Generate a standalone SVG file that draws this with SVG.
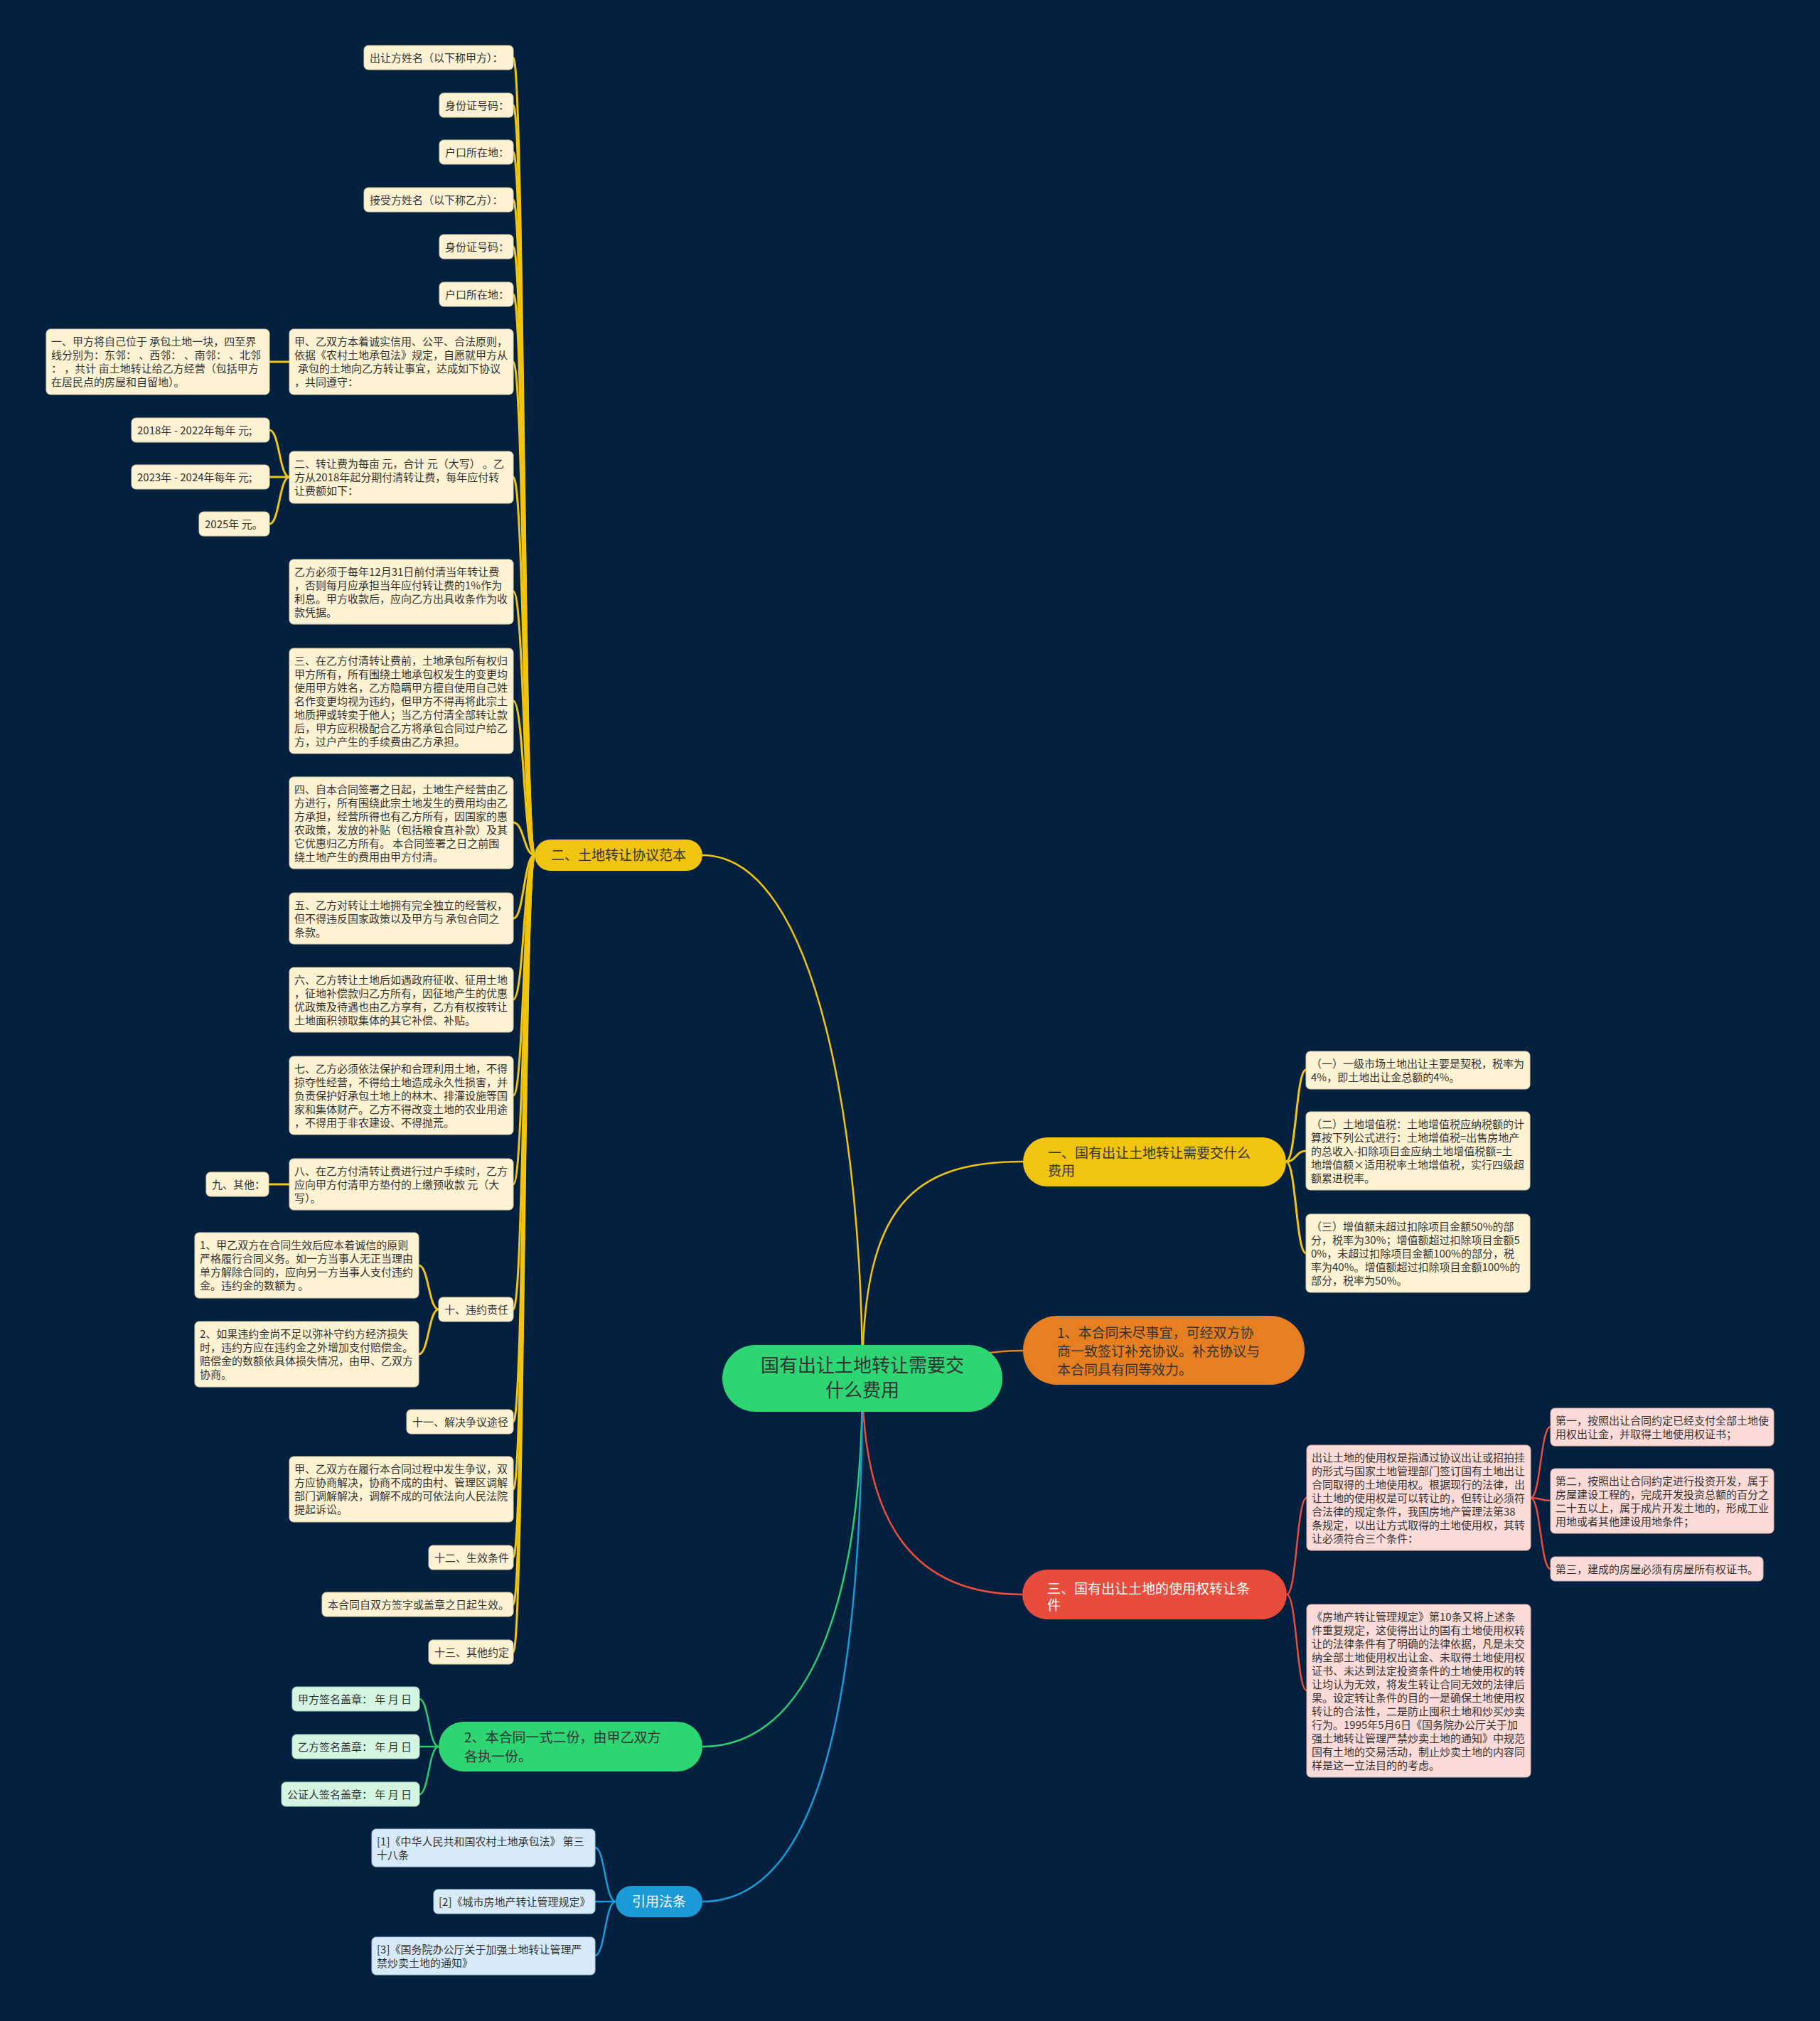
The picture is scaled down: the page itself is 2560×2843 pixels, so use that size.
<svg xmlns="http://www.w3.org/2000/svg" width="2560" height="2843" viewBox="0 0 2560 2843">
<defs>
<style>
.t{font-family:"Noto Sans CJK SC","Noto Sans",sans-serif;font-size:15px;fill:#333}
.bt{font-family:"Noto Sans CJK SC","Noto Sans",sans-serif;font-size:19px;fill:#333}
.rt{font-family:"Noto Sans CJK SC","Noto Sans",sans-serif;font-size:26px;fill:#333}
.w{fill:#fff}
.ly{fill:#fdf3d3;stroke:#d9cfa8;stroke-width:1}
.lg{fill:#d5f5e3;stroke:#a9d8bd;stroke-width:1}
.lb{fill:#d6eaf8;stroke:#a9c9e0;stroke-width:1}
.lr{fill:#fadbd8;stroke:#dcb0ab;stroke-width:1}
.cy{fill:none;stroke:#f1c40f;stroke-width:3}
.cy2{fill:none;stroke:#f1c40f;stroke-width:2.5}
.cg{fill:none;stroke:#2ecc71;stroke-width:2.5}
.cb{fill:none;stroke:#1a9ad6;stroke-width:2.5}
.cr{fill:none;stroke:#e74c3c;stroke-width:2.5}
.co{fill:none;stroke:#e67e22;stroke-width:2.5}
</style>
</defs>
<rect x="0" y="0" width="2560" height="2843" fill="#03213f"/>
<g id="connectors">
<path class="cy2" d="M1213 1939 C1213 1600 1150 1203 988 1203"/>
<path class="cy2" d="M1213 1939 C1213 1700 1280 1634 1439 1634"/>
<path class="co" d="M1213 1939 C1330 1939 1330 1900 1439 1900"/>
<path class="cr" d="M1213 1939 C1213 2150 1290 2243 1438 2243"/>
<path class="cg" d="M1213 1939 C1213 2250 1140 2457 988 2457"/>
<path class="cb" d="M1213 1939 C1213 2400 1150 2675 988 2675"/>
<path class="cy" d="M752 1203 C737 1203 737 81 722 81"/>
<path class="cy" d="M752 1203 C737 1203 737 148 722 148"/>
<path class="cy" d="M752 1203 C737 1203 737 214 722 214"/>
<path class="cy" d="M752 1203 C737 1203 737 281 722 281"/>
<path class="cy" d="M752 1203 C737 1203 737 347 722 347"/>
<path class="cy" d="M752 1203 C737 1203 737 414 722 414"/>
<path class="cy" d="M752 1203 C737 1203 737 509 722 509"/>
<path class="cy" d="M752 1203 C737 1203 737 671 722 671"/>
<path class="cy" d="M752 1203 C737 1203 737 832 722 832"/>
<path class="cy" d="M752 1203 C737 1203 737 986 722 986"/>
<path class="cy" d="M752 1203 C737 1203 737 1157 722 1157"/>
<path class="cy" d="M752 1203 C737 1203 737 1292 722 1292"/>
<path class="cy" d="M752 1203 C737 1203 737 1406 722 1406"/>
<path class="cy" d="M752 1203 C737 1203 737 1541 722 1541"/>
<path class="cy" d="M752 1203 C737 1203 737 1666 722 1666"/>
<path class="cy" d="M752 1203 C737 1203 737 1842 722 1842"/>
<path class="cy" d="M752 1203 C737 1203 737 2000 722 2000"/>
<path class="cy" d="M752 1203 C737 1203 737 2095 722 2095"/>
<path class="cy" d="M752 1203 C737 1203 737 2191 722 2191"/>
<path class="cy" d="M752 1203 C737 1203 737 2257 722 2257"/>
<path class="cy" d="M752 1203 C737 1203 737 2324 722 2324"/>
<path class="cy" d="M407 509 L379 509"/>
<path class="cy" d="M407 671 C393 671 393 605 379 605"/>
<path class="cy" d="M407 671 L379 671"/>
<path class="cy" d="M407 671 C393 671 393 737 379 737"/>
<path class="cy" d="M407 1666 L378 1666"/>
<path class="cy" d="M617 1842 C603 1842 603 1780 589 1780"/>
<path class="cy" d="M617 1842 C603 1842 603 1905 589 1905"/>
<path class="cy" d="M1809 1634 C1823 1634 1823 1505 1837 1505"/>
<path class="cy" d="M1809 1634 C1823 1634 1823 1619 1837 1619"/>
<path class="cy" d="M1809 1634 C1823 1634 1823 1763 1837 1763"/>
<path class="cr" d="M1810 2243 C1824 2243 1824 2107 1838 2107"/>
<path class="cr" d="M1810 2243 C1824 2243 1824 2378 1838 2378"/>
<path class="cr" d="M2153 2107 C2167 2107 2167 2007 2181 2007"/>
<path class="cr" d="M2153 2107 C2167 2107 2167 2111 2181 2111"/>
<path class="cr" d="M2153 2107 C2167 2107 2167 2207 2181 2207"/>
<path class="cg" d="M617 2457 C603 2457 603 2390 590 2390"/>
<path class="cg" d="M617 2457 L590 2457"/>
<path class="cg" d="M617 2457 C603 2457 603 2524 590 2524"/>
<path class="cb" d="M866 2675 C851 2675 851 2599 837 2599"/>
<path class="cb" d="M866 2675 L837 2675"/>
<path class="cb" d="M866 2675 C851 2675 851 2751 837 2751"/>
</g>
<g id="root"><rect x="1016" y="1892" width="394" height="94" rx="47" fill="#2ed573"/>
<text class="rt" text-anchor="middle"><tspan x="1213" y="1930">国有出让土地转让需要交</tspan><tspan x="1213" y="1965">什么费用</tspan></text></g>
<g id="b2"><rect x="752" y="1181" width="236" height="44" rx="22" fill="#f1c40f"/>
<text class="bt" text-anchor="middle" x="870" y="1210">二、土地转让协议范本</text></g>
<g id="b1"><rect x="1439" y="1600" width="370" height="69" rx="34" fill="#f1c40f"/>
<text class="bt"><tspan x="1474" y="1629">一、国有出让土地转让需要交什么</tspan><tspan x="1474" y="1654">费用</tspan></text></g>
<g id="bo"><rect x="1439" y="1851" width="396" height="97" rx="48" fill="#e67e22"/>
<text class="bt"><tspan x="1487" y="1882">1、本合同未尽事宜，可经双方协</tspan><tspan x="1487" y="1908">商一致签订补充协议。补充协议与</tspan><tspan x="1487" y="1934">本合同具有同等效力。</tspan></text></g>
<g id="b3"><rect x="1438" y="2208" width="372" height="70" rx="35" fill="#e74c3c"/>
<text class="bt w"><tspan x="1473" y="2242">三、国有出让土地的使用权转让条</tspan><tspan x="1473" y="2265">件</tspan></text></g>
<g id="bg"><rect x="617" y="2422" width="371" height="70" rx="35" fill="#2ed573"/>
<text class="bt"><tspan x="653" y="2451">2、本合同一式二份，由甲乙双方</tspan><tspan x="653" y="2478">各执一份。</tspan></text></g>
<g id="bb"><rect x="866" y="2653" width="122" height="44" rx="22" fill="#1a9ad6"/>
<text class="bt w" text-anchor="middle" x="927" y="2682">引用法条</text></g>
<g id="a1"><rect class="ly" x="512" y="64" width="210" height="34" rx="6"/><text class="t" x="520" y="87">出让方姓名（以下称甲方）：</text></g>
<g id="a2"><rect class="ly" x="618" y="131" width="104" height="34" rx="6"/><text class="t" x="626" y="154">身份证号码：</text></g>
<g id="a3"><rect class="ly" x="618" y="197" width="104" height="34" rx="6"/><text class="t" x="626" y="220">户口所在地：</text></g>
<g id="a4"><rect class="ly" x="512" y="264" width="210" height="34" rx="6"/><text class="t" x="520" y="287">接受方姓名（以下称乙方）：</text></g>
<g id="a5"><rect class="ly" x="618" y="330" width="104" height="34" rx="6"/><text class="t" x="626" y="353">身份证号码：</text></g>
<g id="a6"><rect class="ly" x="618" y="397" width="104" height="34" rx="6"/><text class="t" x="626" y="420">户口所在地：</text></g>
<g id="a7"><rect class="ly" x="407" y="463" width="315" height="92" rx="6"/><text class="t"><tspan x="414" y="486">甲、乙双方本着诚实信用、公平、合法原则，</tspan><tspan x="414" y="505">依据《农村土地承包法》规定，自愿就甲方从</tspan><tspan x="419" y="524">承包的土地向乙方转让事宜，达成如下协议</tspan><tspan x="414" y="543">，共同遵守：</tspan></text></g>
<g id="a7c"><rect class="ly" x="65" y="463" width="314" height="92" rx="6"/><text class="t"><tspan x="72" y="486">一、甲方将自己位于 承包土地一块，四至界</tspan><tspan x="72" y="505">线分别为：东邻： 、西邻： 、南邻： 、北邻</tspan><tspan x="72" y="524">： ，共计 亩土地转让给乙方经营（包括甲方</tspan><tspan x="72" y="543">在居民点的房屋和自留地）。</tspan></text></g>
<g id="a8"><rect class="ly" x="407" y="635" width="315" height="73" rx="6"/><text class="t"><tspan x="414" y="658">二、转让费为每亩 元，合计 元（大写） 。乙</tspan><tspan x="414" y="677">方从2018年起分期付清转让费，每年应付转</tspan><tspan x="414" y="696">让费额如下：</tspan></text></g>
<g id="a8c1"><rect class="ly" x="185" y="588" width="194" height="34" rx="6"/><text class="t" x="193" y="611">2018年 - 2022年每年 元;</text></g>
<g id="a8c2"><rect class="ly" x="185" y="654" width="194" height="34" rx="6"/><text class="t" x="193" y="677">2023年 - 2024年每年 元;</text></g>
<g id="a8c3"><rect class="ly" x="280" y="720" width="99" height="34" rx="6"/><text class="t" x="288" y="743">2025年 元。</text></g>
<g id="a9"><rect class="ly" x="407" y="787" width="315" height="91" rx="6"/><text class="t"><tspan x="414" y="810">乙方必须于每年12月31日前付清当年转让费</tspan><tspan x="414" y="829">，否则每月应承担当年应付转让费的1%作为</tspan><tspan x="414" y="848">利息。甲方收款后，应向乙方出具收条作为收</tspan><tspan x="414" y="867">款凭据。</tspan></text></g>
<g id="a10"><rect class="ly" x="407" y="912" width="315" height="148" rx="6"/><text class="t"><tspan x="414" y="935">三、在乙方付清转让费前，土地承包所有权归</tspan><tspan x="414" y="954">甲方所有，所有围绕土地承包权发生的变更均</tspan><tspan x="414" y="973">使用甲方姓名，乙方隐瞒甲方擅自使用自己姓</tspan><tspan x="414" y="992">名作变更均视为违约，但甲方不得再将此宗土</tspan><tspan x="414" y="1011">地质押或转卖于他人；当乙方付清全部转让款</tspan><tspan x="414" y="1030">后，甲方应积极配合乙方将承包合同过户给乙</tspan><tspan x="414" y="1049">方，过户产生的手续费由乙方承担。</tspan></text></g>
<g id="a11"><rect class="ly" x="407" y="1093" width="315" height="129" rx="6"/><text class="t"><tspan x="414" y="1116">四、自本合同签署之日起，土地生产经营由乙</tspan><tspan x="414" y="1135">方进行，所有围绕此宗土地发生的费用均由乙</tspan><tspan x="414" y="1154">方承担，经营所得也有乙方所有，因国家的惠</tspan><tspan x="414" y="1173">农政策，发放的补贴（包括粮食直补款）及其</tspan><tspan x="414" y="1192">它优惠归乙方所有。 本合同签署之日之前围</tspan><tspan x="414" y="1211">绕土地产生的费用由甲方付清。</tspan></text></g>
<g id="a12"><rect class="ly" x="407" y="1256" width="315" height="72" rx="6"/><text class="t"><tspan x="414" y="1279">五、乙方对转让土地拥有完全独立的经营权，</tspan><tspan x="414" y="1298">但不得违反国家政策以及甲方与 承包合同之</tspan><tspan x="414" y="1317">条款。</tspan></text></g>
<g id="a13"><rect class="ly" x="407" y="1361" width="315" height="91" rx="6"/><text class="t"><tspan x="414" y="1384">六、乙方转让土地后如遇政府征收、征用土地</tspan><tspan x="414" y="1403">，征地补偿款归乙方所有，因征地产生的优惠</tspan><tspan x="414" y="1422">优政策及待遇也由乙方享有，乙方有权按转让</tspan><tspan x="414" y="1441">土地面积领取集体的其它补偿、补贴。</tspan></text></g>
<g id="a14"><rect class="ly" x="407" y="1486" width="315" height="110" rx="6"/><text class="t"><tspan x="414" y="1509">七、乙方必须依法保护和合理利用土地，不得</tspan><tspan x="414" y="1528">掠夺性经营，不得给土地造成永久性损害，并</tspan><tspan x="414" y="1547">负责保护好承包土地上的林木、排灌设施等国</tspan><tspan x="414" y="1566">家和集体财产。乙方不得改变土地的农业用途</tspan><tspan x="414" y="1585">，不得用于非农建设、不得抛荒。</tspan></text></g>
<g id="a15"><rect class="ly" x="407" y="1630" width="315" height="72" rx="6"/><text class="t"><tspan x="414" y="1653">八、在乙方付清转让费进行过户手续时，乙方</tspan><tspan x="414" y="1672">应向甲方付清甲方垫付的上缴预收款 元（大</tspan><tspan x="414" y="1691">写）。</tspan></text></g>
<g id="a15c"><rect class="ly" x="290" y="1649" width="88" height="34" rx="6"/><text class="t" x="298" y="1672">九、其他：</text></g>
<g id="a16"><rect class="ly" x="617" y="1825" width="105" height="34" rx="6"/><text class="t" x="625" y="1848">十、违约责任</text></g>
<g id="a16c1"><rect class="ly" x="274" y="1734" width="315" height="92" rx="6"/><text class="t"><tspan x="281" y="1757">1、甲乙双方在合同生效后应本着诚信的原则</tspan><tspan x="281" y="1776">严格履行合同义务。如一方当事人无正当理由</tspan><tspan x="281" y="1795">单方解除合同的，应向另一方当事人支付违约</tspan><tspan x="281" y="1814">金。违约金的数额为 。</tspan></text></g>
<g id="a16c2"><rect class="ly" x="274" y="1859" width="315" height="92" rx="6"/><text class="t"><tspan x="281" y="1882">2、如果违约金尚不足以弥补守约方经济损失</tspan><tspan x="281" y="1901">时，违约方应在违约金之外增加支付赔偿金。</tspan><tspan x="281" y="1920">赔偿金的数额依具体损失情况，由甲、乙双方</tspan><tspan x="281" y="1939">协商。</tspan></text></g>
<g id="a17"><rect class="ly" x="572" y="1983" width="150" height="34" rx="6"/><text class="t" x="580" y="2006">十一、解决争议途径</text></g>
<g id="a18"><rect class="ly" x="407" y="2049" width="315" height="92" rx="6"/><text class="t"><tspan x="414" y="2072">甲、乙双方在履行本合同过程中发生争议，双</tspan><tspan x="414" y="2091">方应协商解决，协商不成的由村、管理区调解</tspan><tspan x="414" y="2110">部门调解解决，调解不成的可依法向人民法院</tspan><tspan x="414" y="2129">提起诉讼。</tspan></text></g>
<g id="a19"><rect class="ly" x="603" y="2174" width="119" height="34" rx="6"/><text class="t" x="611" y="2197">十二、生效条件</text></g>
<g id="a20"><rect class="ly" x="453" y="2240" width="269" height="34" rx="6"/><text class="t" x="461" y="2263">本合同自双方签字或盖章之日起生效。</text></g>
<g id="a21"><rect class="ly" x="603" y="2307" width="119" height="34" rx="6"/><text class="t" x="611" y="2330">十三、其他约定</text></g>
<g id="g1"><rect class="lg" x="411" y="2373" width="179" height="34" rx="6"/><text class="t" x="419" y="2396">甲方签名盖章： 年 月 日</text></g>
<g id="g2"><rect class="lg" x="411" y="2440" width="179" height="34" rx="6"/><text class="t" x="419" y="2463">乙方签名盖章： 年 月 日</text></g>
<g id="g3"><rect class="lg" x="396" y="2507" width="194" height="34" rx="6"/><text class="t" x="404" y="2530">公证人签名盖章： 年 月 日</text></g>
<g id="c1"><rect class="lb" x="523" y="2573" width="314" height="53" rx="6"/><text class="t"><tspan x="530" y="2596">[1]《中华人民共和国农村土地承包法》 第三</tspan><tspan x="530" y="2615">十八条</tspan></text></g>
<g id="c2"><rect class="lb" x="610" y="2658" width="227" height="34" rx="6"/><text class="t" x="617" y="2681">[2]《城市房地产转让管理规定》</text></g>
<g id="c3"><rect class="lb" x="523" y="2725" width="314" height="53" rx="6"/><text class="t"><tspan x="530" y="2748">[3]《国务院办公厅关于加强土地转让管理严</tspan><tspan x="530" y="2767">禁炒卖土地的通知》</tspan></text></g>
<g id="y1"><rect class="ly" x="1837" y="1479" width="315" height="53" rx="6"/><text class="t"><tspan x="1844" y="1502">（一）一级市场土地出让主要是契税，税率为</tspan><tspan x="1844" y="1521">4%，即土地出让金总额的4%。</tspan></text></g>
<g id="y2"><rect class="ly" x="1837" y="1564" width="315" height="110" rx="6"/><text class="t"><tspan x="1844" y="1587">（二）土地增值税：土地增值税应纳税额的计</tspan><tspan x="1844" y="1606">算按下列公式进行：土地增值税=出售房地产</tspan><tspan x="1844" y="1625">的总收入-扣除项目金应纳土地增值税额=土</tspan><tspan x="1844" y="1644">地增值额×适用税率土地增值税，实行四级超</tspan><tspan x="1844" y="1663">额累进税率。</tspan></text></g>
<g id="y3"><rect class="ly" x="1837" y="1708" width="315" height="110" rx="6"/><text class="t"><tspan x="1844" y="1731">（三）增值额未超过扣除项目金额50%的部</tspan><tspan x="1844" y="1750">分，税率为30%；增值额超过扣除项目金额5</tspan><tspan x="1844" y="1769">0%，未超过扣除项目金额100%的部分，税</tspan><tspan x="1844" y="1788">率为40%。增值额超过扣除项目金额100%的</tspan><tspan x="1844" y="1807">部分，税率为50%。</tspan></text></g>
<g id="r1"><rect class="lr" x="1838" y="2033" width="315" height="148" rx="6"/><text class="t"><tspan x="1845" y="2056">出让土地的使用权是指通过协议出让或招拍挂</tspan><tspan x="1845" y="2075">的形式与国家土地管理部门签订国有土地出让</tspan><tspan x="1845" y="2094">合同取得的土地使用权。根据现行的法律，出</tspan><tspan x="1845" y="2113">让土地的使用权是可以转让的，但转让必须符</tspan><tspan x="1845" y="2132">合法律的规定条件，我国房地产管理法第38</tspan><tspan x="1845" y="2151">条规定，以出让方式取得的土地使用权，其转</tspan><tspan x="1845" y="2170">让必须符合三个条件：</tspan></text></g>
<g id="r1a"><rect class="lr" x="2181" y="1981" width="314" height="53" rx="6"/><text class="t"><tspan x="2188" y="2004">第一，按照出让合同约定已经支付全部土地使</tspan><tspan x="2188" y="2023">用权出让金，并取得土地使用权证书；</tspan></text></g>
<g id="r1b"><rect class="lr" x="2181" y="2066" width="314" height="91" rx="6"/><text class="t"><tspan x="2188" y="2089">第二，按照出让合同约定进行投资开发，属于</tspan><tspan x="2188" y="2108">房屋建设工程的，完成开发投资总额的百分之</tspan><tspan x="2188" y="2127">二十五以上，属于成片开发土地的，形成工业</tspan><tspan x="2188" y="2146">用地或者其他建设用地条件；</tspan></text></g>
<g id="r1c"><rect class="lr" x="2181" y="2190" width="299" height="34" rx="6"/><text class="t" x="2188" y="2213">第三，建成的房屋必须有房屋所有权证书。</text></g>
<g id="r2"><rect class="lr" x="1838" y="2257" width="315" height="243" rx="6"/><text class="t"><tspan x="1845" y="2280">《房地产转让管理规定》第10条又将上述条</tspan><tspan x="1845" y="2299">件重复规定，这使得出让的国有土地使用权转</tspan><tspan x="1845" y="2318">让的法律条件有了明确的法律依据，凡是未交</tspan><tspan x="1845" y="2337">纳全部土地使用权出让金、未取得土地使用权</tspan><tspan x="1845" y="2356">证书、未达到法定投资条件的土地使用权的转</tspan><tspan x="1845" y="2375">让均认为无效，将发生转让合同无效的法律后</tspan><tspan x="1845" y="2394">果。设定转让条件的目的一是确保土地使用权</tspan><tspan x="1845" y="2413">转让的合法性，二是防止囤积土地和炒买炒卖</tspan><tspan x="1845" y="2432">行为。1995年5月6日《国务院办公厅关于加</tspan><tspan x="1845" y="2451">强土地转让管理严禁炒卖土地的通知》中规范</tspan><tspan x="1845" y="2470">国有土地的交易活动，制止炒卖土地的内容同</tspan><tspan x="1845" y="2489">样是这一立法目的的考虑。</tspan></text></g>
</svg>
